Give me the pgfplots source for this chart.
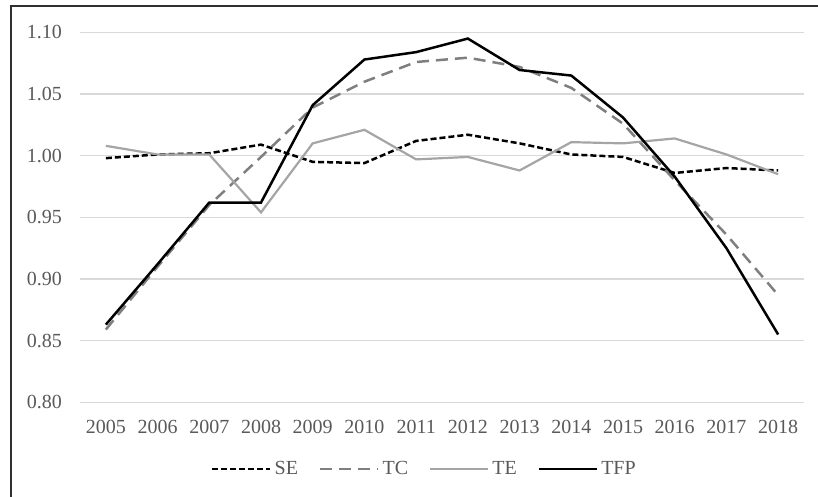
\documentclass[border=0pt]{standalone}
\usepackage{fontspec}
\setmainfont{Liberation Serif}
\usepackage{pgfplots}
\usepackage{pgfplotstable}
\pgfplotsset{compat=1.18}
\definecolor{gridgray}{HTML}{D9D9D9}
\definecolor{textgray}{HTML}{595959}
\definecolor{tcgray}{HTML}{7F7F7F}
\definecolor{tegray}{HTML}{A5A5A5}
\definecolor{framegray}{HTML}{303030}
\pgfplotstableread{
x SE TC TE TFP
0 0.998 0.859 1.008 0.863
1 1.001 0.910 1.001 0.912
2 1.002 0.960 1.001 0.962
3 1.009 0.999 0.954 0.962
4 0.995 1.039 1.010 1.041
5 0.994 1.060 1.021 1.078
6 1.012 1.076 0.997 1.084
7 1.017 1.0795 0.999 1.095
8 1.010 1.072 0.988 1.0695
9 1.001 1.055 1.011 1.065
10 0.999 1.026 1.010 1.031
11 0.986 0.980 1.014 0.983
12 0.990 0.936 1.001 0.925
13 0.988 0.887 0.985 0.855
}\datatable
\begin{document}
\begin{tikzpicture}[x=1pt,y=1pt]
\begin{axis}[
  at={(0,0)}, anchor=south west,
  width=362pt, height=184.95pt, scale only axis,
  xmin=-0.5, xmax=13.5, ymin=0.80, ymax=1.10,
  xtick={0,...,13},
  xticklabels={2005,2006,2007,2008,2009,2010,2011,2012,2013,2014,2015,2016,2017,2018},
  ytick={0.80,0.85,0.90,0.95,1.00,1.05,1.10},
  /pgf/number format/fixed,
  /pgf/number format/fixed zerofill,
  /pgf/number format/precision=2,
  /pgf/number format/assume math mode=true,
  ymajorgrids, grid style={draw=gridgray, line width=0.75pt},
  axis line style={draw=none}, major tick length=0pt,
  tick label style={font=\fontsize{10}{12}\selectfont, text=textgray, inner sep=0pt},
  xticklabel style={anchor=north, yshift=-8.8pt},
  yticklabel style={anchor=east, xshift=-8.85pt},
  legend columns=4,
  legend style={at={(0.4765,-0.1803)}, anchor=center, draw=none, fill=none,
    font=\fontsize{10}{12}\selectfont, text=textgray,
    /tikz/every even column/.append style={column sep=9pt},
    nodes={inner sep=1.5pt}},
  legend image code/.code={\draw[#1] (0pt,0pt) -- (29pt,0pt);},
]
\addplot[black, line width=1.25pt, dash pattern=on 3pt off 1.5pt] table[x=x,y=SE]{\datatable};
\addlegendentry{SE}
\addplot[tcgray, line width=1.25pt, dash pattern=on 6pt off 3.5pt] table[x=x,y=TC]{\datatable};
\addlegendentry{TC}
\addplot[tegray, line width=1.1pt] table[x=x,y=TE]{\datatable};
\addlegendentry{TE}
\addplot[black, line width=1.25pt] table[x=x,y=TFP]{\datatable};
\addlegendentry{TFP}
\end{axis}
\draw[framegray, line width=1pt] (-34.75,-60) -- (-34.75,198.15) -- (380,198.15);
\pgfresetboundingbox
\useasboundingbox (-40,-47.35) rectangle (369,201.15);
\end{tikzpicture}
\end{document}
